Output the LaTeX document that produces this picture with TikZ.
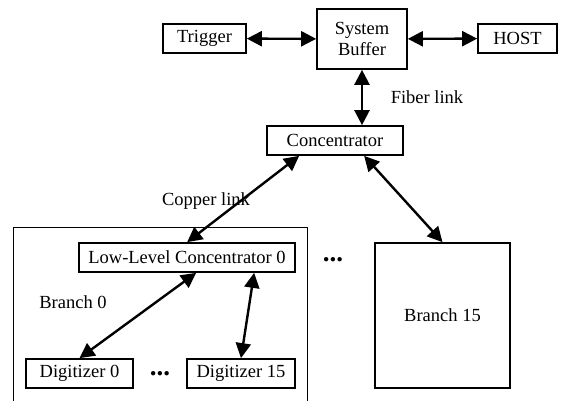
\documentclass[tikz,border=0pt]{standalone}
\usepackage{fontspec}
\setmainfont{Liberation Serif}
\usetikzlibrary{arrows.meta,calc}
\begin{document}
\begin{tikzpicture}[x=1pt,y=-1pt,
  font=\fontsize{18.5}{21}\selectfont,
  box/.style={draw,line width=1.7pt,rectangle,inner sep=0pt,align=center},
  link/.style={line width=2.4pt,{Triangle[length=15pt,width=15pt]}-{Triangle[length=15pt,width=15pt]}},
  dotsx/.style={font=\fontsize{27}{27}\bfseries\selectfont,inner sep=0pt}]
\useasboundingbox (0,0) rectangle (566,401);
% frame of branch 0 (open at bottom)
\draw[line width=1pt] (13,401) |- (307,228) -- (307,401);
\node[box,minimum width=83pt,minimum height=29pt] (trig) at (204.5,38.5) {Trigger};
\node[box,minimum width=90pt,minimum height=60pt] (sb) at (362,39) {System\\Buffer};
\node[box,minimum width=79pt,minimum height=29pt] (host) at (517.5,38.5) {HOST};
\node[box,minimum width=136pt,minimum height=29pt] (conc) at (335,140.5) {Concentrator};
\node[box,minimum width=216pt,minimum height=29pt] (llc) at (187,257.5) {Low-Level Concentrator 0};
\node[box,minimum width=135pt,minimum height=145pt] (b15) at (442.5,315.5) {Branch 15};
\node[box,minimum width=107pt,minimum height=29pt] (d0) at (79.5,373.5) {Digitizer 0};
\node[box,minimum width=108pt,minimum height=29pt] (d15) at (241,373.5) {Digitizer 15};
\node (fiber) at (427,97) {Fiber link};
\node (copper) at (206,201) {Copper link};
\node (br0) at (73,302) {Branch 0};
\node[dotsx] (dA) at (333,260) {...};
\node[dotsx] (dB) at (160,374) {...};
\draw[link] (trig) -- (sb);
\draw[link] (sb) -- (host);
\draw[link] (sb.south) -- (sb.south |- conc.north);
\draw[link] ($(conc.south west)+(33,0)$) -- ($(llc.north west)+(109,0)$);
\draw[link] ($(conc.south west)+(98,0)$) -- (b15.north);
\draw[link] ($(llc.south west)+(118,0)$) -- (d0.north);
\draw[link] ($(llc.south west)+(176,0)$) -- (d15.north);
\end{tikzpicture}
\end{document}
